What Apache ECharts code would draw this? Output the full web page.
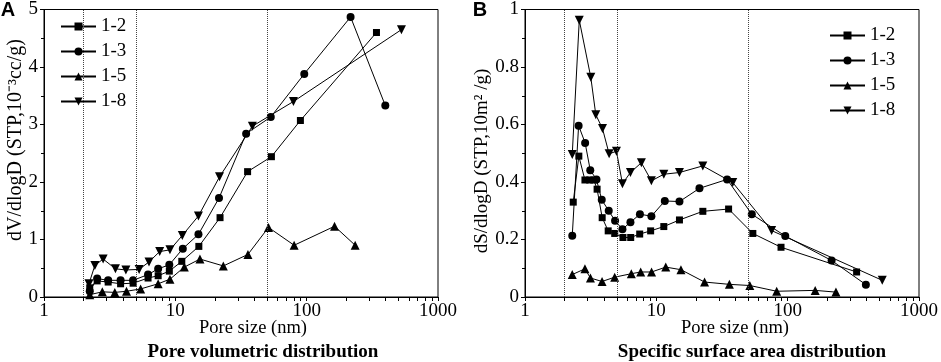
<!DOCTYPE html>
<html>
<head>
<meta charset="utf-8">
<script src="https://cdn.jsdelivr.net/npm/echarts@6/dist/echarts.min.js"></script>
<style>
  html, body { margin: 0; padding: 0; background: #fff; }
  #chart { width: 941px; height: 362px; }
</style>
</head>
<body>
<div id="chart"></div>
<script>
  // Panel A - pore volumetric distribution (dV/dlogD)
  const volX12 = [2.23, 2.54, 3.08, 3.83, 4.77, 6.2, 7.4, 9.0, 11.2, 15.1, 21.9, 35.5, 53.9, 89.6, 340]
  const volY12 = [0.16, 0.28, 0.26, 0.23, 0.24, 0.33, 0.37, 0.45, 0.62, 0.88, 1.38, 2.18, 2.44, 3.07, 4.6]
  const volX13 = [2.23, 2.54, 3.08, 3.83, 4.77, 6.2, 7.4, 9.0, 11.4, 15.0, 21.5, 34.6, 53.3, 95.9, 216, 397]
  const volY13 = [0.1, 0.32, 0.29, 0.29, 0.29, 0.39, 0.49, 0.56, 0.84, 1.09, 1.72, 2.84, 3.13, 3.88, 4.87, 3.33]
  const volX15 = [2.23, 2.78, 3.46, 4.25, 5.44, 7.4, 9.1, 11.7, 15.4, 23.2, 35.7, 51.2, 80.3, 163, 234]
  const volY15 = [0.04, 0.09, 0.08, 0.1, 0.14, 0.23, 0.31, 0.52, 0.66, 0.54, 0.74, 1.21, 0.9, 1.23, 0.9]
  const volX18 = [2.2, 2.44, 2.82, 3.5, 4.2, 5.3, 6.3, 7.6, 9.1, 11.3, 15.0, 21.7, 38.6, 79.3, 527]
  const volY18 = [0.23, 0.55, 0.66, 0.49, 0.47, 0.48, 0.61, 0.79, 0.82, 1.07, 1.41, 2.09, 2.97, 3.4, 4.65]

  // Panel B - specific surface area distribution (dS/dlogD)
  const surfX12 = [2.33, 2.57, 2.86, 3.11, 3.34, 3.54, 3.87, 4.3, 4.82, 5.57, 6.38, 7.47, 9.05, 11.4, 15.0, 22.6, 35.5, 54.3, 89, 335]
  const surfY12 = [0.33, 0.49, 0.407, 0.407, 0.407, 0.375, 0.276, 0.23, 0.221, 0.207, 0.207, 0.219, 0.23, 0.245, 0.268, 0.298, 0.306, 0.221, 0.173, 0.087]
  const surfX13 = [2.29, 2.56, 2.87, 3.14, 3.5, 3.84, 4.34, 4.85, 5.52, 6.35, 7.5, 9.17, 11.6, 15.0, 21.3, 34.6, 53.3, 95.9, 216, 394]
  const surfY13 = [0.213, 0.596, 0.536, 0.441, 0.409, 0.338, 0.3, 0.265, 0.236, 0.26, 0.288, 0.281, 0.334, 0.332, 0.378, 0.409, 0.288, 0.212, 0.127, 0.043]
  const surfX15 = [2.29, 2.86, 3.15, 3.86, 4.82, 6.45, 7.6, 9.2, 11.8, 15.4, 23.3, 36.0, 51.5, 82.5, 162, 233]
  const surfY15 = [0.078, 0.098, 0.066, 0.054, 0.069, 0.081, 0.087, 0.087, 0.104, 0.095, 0.052, 0.044, 0.04, 0.02, 0.023, 0.017]
  const surfX18 = [2.29, 2.59, 3.17, 3.46, 3.89, 4.37, 4.97, 5.52, 6.35, 7.69, 9.17, 11.4, 15.0, 22.6, 38.2, 75.5, 525]
  const surfY18 = [0.496, 0.963, 0.764, 0.634, 0.586, 0.498, 0.507, 0.394, 0.433, 0.467, 0.404, 0.427, 0.433, 0.456, 0.398, 0.231, 0.058]

  const sampleNames = ['1-2', '1-3', '1-5', '1-8']
  const guideLines = [2, 5, 50] // dotted pore-class boundaries (nm)
  const minorTicks = [2, 3, 4, 5, 6, 7, 8, 9, 20, 30, 40, 50, 60, 70, 80, 90, 200, 300, 400, 500, 600, 700, 800, 900]

  const serif = 'Liberation Serif'
  const zip = (xs, ys) => xs.map((x, i) => [x, ys[i]])

  const symbols = {
    '1-2': { symbol: 'rect', symbolSize: 7, symbolRotate: 0 },
    '1-3': { symbol: 'circle', symbolSize: 8, symbolRotate: 0 },
    '1-5': { symbol: 'triangle', symbolSize: 9, symbolRotate: 0 },
    '1-8': { symbol: 'triangle', symbolSize: 9, symbolRotate: 180 },
  }

  const makeSeries = (name, data, idx) => ({
    name: name,
    type: 'line',
    xAxisIndex: idx,
    yAxisIndex: idx,
    data: data,
    ...symbols[name],
    showSymbol: true,
    itemStyle: { color: '#000' },
    lineStyle: { color: '#000', width: 1 },
    emphasis: { disabled: true },
  })

  const guideSeries = idx => ({
    type: 'line',
    xAxisIndex: idx,
    yAxisIndex: idx,
    data: [],
    silent: true,
    markLine: {
      silent: true,
      symbol: 'none',
      label: { show: false },
      lineStyle: { type: 'dotted', color: '#444', width: 1 },
      data: guideLines.map(v => ({ xAxis: v })),
    },
  })

  const xAxisCommon = gridIndex => ({
    type: 'log',
    logBase: 10,
    gridIndex: gridIndex,
    min: 1,
    max: 1000,
    axisLine: { lineStyle: { color: '#000', width: 1 } },
    axisTick: {
      inside: false,
      length: 4,
      lineStyle: { color: '#000' },
      customValues: [1, 10, 100, 1000].concat(minorTicks),
    },
    axisLabel: {
      color: '#000',
      fontFamily: serif,
      fontSize: 19,
      margin: 5,
      formatter: v => String(Math.round(v)),
    },
    splitLine: { show: false },
  })

  const yAxisCommon = (gridIndex, max, interval) => ({
    type: 'value',
    gridIndex: gridIndex,
    min: 0,
    max: max,
    interval: interval,
    axisLine: { show: true, lineStyle: { color: '#000', width: 1 } },
    axisTick: { show: true, inside: false, length: 4, lineStyle: { color: '#000' } },
    minorTick: { show: true, splitNumber: 2, length: 3, lineStyle: { color: '#000' } },
    axisLabel: { color: '#000', fontFamily: serif, fontSize: 19, margin: 6 },
    splitLine: { show: false },
  })

  const legendCommon = (left, top) => ({
    orient: 'vertical',
    left: left,
    top: top,
    itemWidth: 35,
    itemHeight: 10,
    itemGap: 6,
    data: sampleNames,
    textStyle: { color: '#000', fontFamily: serif, fontSize: 19 },
    selectedMode: false,
  })

  const label = (x, y, text, extra) => ({
    type: 'text',
    x: x,
    y: y,
    style: Object.assign({
      text: text,
      fill: '#000',
      font: '18.5px "Liberation Serif"',
      align: 'center',
      verticalAlign: 'middle',
    }, extra || {}),
  })

  const myChart = echarts.init(document.getElementById('chart'))
  const option = {
    animation: false,
    backgroundColor: '#fff',
    grid: [
      { left: 44, top: 7, width: 394, height: 290, show: true, borderColor: '#000', borderWidth: 1 },
      { left: 525, top: 7, width: 396, height: 290, show: true, borderColor: '#000', borderWidth: 1 },
    ],
    xAxis: [xAxisCommon(0), xAxisCommon(1)],
    yAxis: [yAxisCommon(0, 5, 1), yAxisCommon(1, 1, 0.2)],
    legend: [legendCommon(55, 12), legendCommon(824, 21)],
    graphic: [
      label(8, 10, 'A', { font: 'bold 20px "Liberation Sans"' }),
      label(480, 10, 'B', { font: 'bold 20px "Liberation Sans"' }),
      label(253, 328, 'Pore size (nm)'),
      label(735, 328, 'Pore size (nm)'),
      label(263, 352, 'Pore volumetric distribution', { font: 'bold 19px "Liberation Serif"' }),
      label(752, 352, 'Specific surface area distribution', { font: 'bold 19px "Liberation Serif"' }),
      Object.assign(label(16, 140, 'dV/dlogD (STP,10⁻³cc/g)', { font: '20px "Liberation Serif"' }), { rotation: Math.PI / 2 }),
      Object.assign(label(482, 161, 'dS/dlogD (STP,10m² /g)', { font: '19px "Liberation Serif"' }), { rotation: Math.PI / 2 }),
    ],
    series: [
      guideSeries(0),
      guideSeries(1),
      makeSeries('1-2', zip(volX12, volY12), 0),
      makeSeries('1-3', zip(volX13, volY13), 0),
      makeSeries('1-5', zip(volX15, volY15), 0),
      makeSeries('1-8', zip(volX18, volY18), 0),
      makeSeries('1-2', zip(surfX12, surfY12), 1),
      makeSeries('1-3', zip(surfX13, surfY13), 1),
      makeSeries('1-5', zip(surfX15, surfY15), 1),
      makeSeries('1-8', zip(surfX18, surfY18), 1),
    ],
  }
  option && myChart.setOption(option)
</script>
</body>
</html>
